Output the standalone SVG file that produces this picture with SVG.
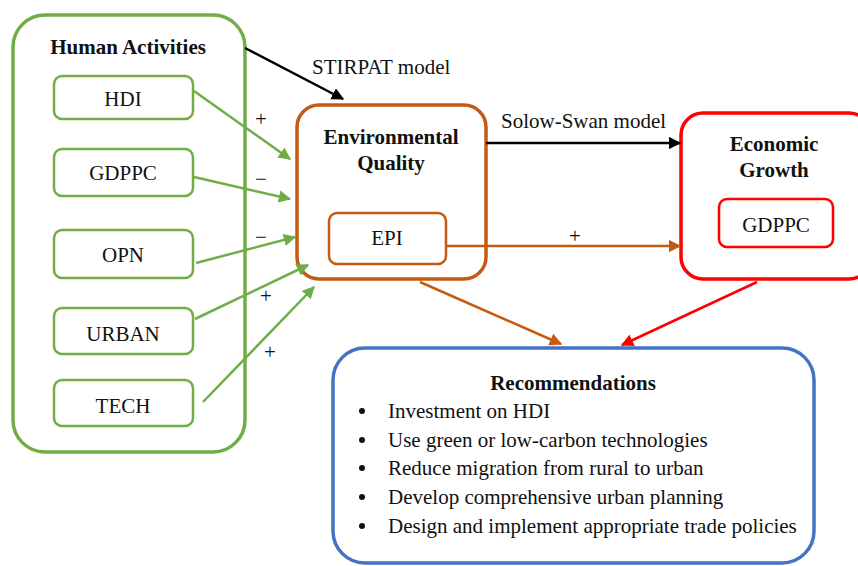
<svg xmlns="http://www.w3.org/2000/svg" width="858" height="566" viewBox="0 0 858 566" font-family="'Liberation Serif', 'Times New Roman', 'DejaVu Serif', serif">
<style>
text{font-family:'Liberation Serif','Times New Roman','DejaVu Serif',serif;font-size:21px;fill:#111;}
.b{font-weight:bold;}
.m{text-anchor:middle;}
.g{fill:#fff;stroke:#70AD47;}
.o{fill:#fff;stroke:#C55A11;}
.r{fill:#fff;stroke:#FF0000;}
.bl{fill:#fff;stroke:#4472C4;}
.cg{stroke:#70AD47;stroke-width:2.5;fill:none;marker-end:url(#ag);}
</style>
<defs>
<marker id="ag" viewBox="0 0 10 10" refX="9" refY="5" markerWidth="5" markerHeight="5" markerUnits="strokeWidth" orient="auto"><path d="M0,0L10,5L0,10z" fill="#70AD47"/></marker>
<marker id="ak" viewBox="0 0 10 10" refX="9" refY="5" markerWidth="5" markerHeight="5" markerUnits="strokeWidth" orient="auto"><path d="M0,0L10,5L0,10z" fill="#000"/></marker>
<marker id="ao" viewBox="0 0 10 10" refX="9" refY="5" markerWidth="5" markerHeight="5" markerUnits="strokeWidth" orient="auto"><path d="M0,0L10,5L0,10z" fill="#C55A11"/></marker>
<marker id="ar" viewBox="0 0 10 10" refX="9" refY="5" markerWidth="5" markerHeight="5" markerUnits="strokeWidth" orient="auto"><path d="M0,0L10,5L0,10z" fill="#FF0000"/></marker>
</defs>
<rect width="858" height="566" fill="#fff"/>

<g id="human-activities">
<rect class="g" x="13" y="15" width="232" height="437" rx="32" stroke-width="3.5"/>
<text class="b m" x="128" y="54">Human Activities</text>
</g>
<g id="hdi"><rect class="g" x="54" y="76" width="139" height="43" rx="8" stroke-width="2.5"/><text class="m" x="123" y="106">HDI</text></g>
<g id="gdppc-h"><rect class="g" x="54" y="149" width="139" height="47" rx="8" stroke-width="2.5"/><text class="m" x="123" y="180">GDPPC</text></g>
<g id="opn"><rect class="g" x="54" y="230" width="139" height="48" rx="8" stroke-width="2.5"/><text class="m" x="123" y="262">OPN</text></g>
<g id="urban"><rect class="g" x="54" y="308" width="139" height="46" rx="8" stroke-width="2.5"/><text class="m" x="123" y="341">URBAN</text></g>
<g id="tech"><rect class="g" x="54" y="380" width="139" height="46" rx="8" stroke-width="2.5"/><text class="m" x="123" y="413">TECH</text></g>

<g id="environmental-quality">
<rect class="o" x="297" y="105" width="189" height="174" rx="22" stroke-width="3.5"/>
<text class="b m" x="391" y="144">Environmental</text>
<text class="b m" x="391" y="170">Quality</text>
</g>
<g id="epi"><rect class="o" x="329" y="213" width="117" height="51" rx="8" stroke-width="2.5"/><text class="m" x="387" y="245">EPI</text></g>

<g id="economic-growth">
<rect class="r" x="681" y="113" width="190" height="166" rx="22" stroke-width="3.5"/>
<text class="b m" x="774" y="151">Economic</text>
<text class="b m" x="774" y="177">Growth</text>
</g>
<g id="gdppc-e"><rect class="r" x="719" y="199" width="114" height="48" rx="8" stroke-width="2.5"/><text class="m" x="776" y="232">GDPPC</text></g>

<g id="recommendations">
<rect class="bl" x="333" y="348" width="481" height="215" rx="32" stroke-width="3.5"/>
<text class="b m" x="573" y="390">Recommendations</text>
<g>
<circle cx="362" cy="411" r="3" fill="#111"/><text x="388" y="418">Investment on HDI</text>
<circle cx="362" cy="440" r="3" fill="#111"/><text x="388" y="447">Use green or low-carbon technologies</text>
<circle cx="362" cy="468" r="3" fill="#111"/><text x="388" y="475">Reduce migration from rural to urban</text>
<circle cx="362" cy="497" r="3" fill="#111"/><text x="388" y="504">Develop comprehensive urban planning</text>
<circle cx="362" cy="526" r="3" fill="#111"/><text x="388" y="533">Design and implement appropriate trade policies</text>
</g>
</g>

<g id="connectors">
<line x1="245" y1="48" x2="343" y2="99" stroke="#000" stroke-width="2.5" marker-end="url(#ak)"/>
<text x="312" y="74">STIRPAT model</text>
<line x1="486" y1="143" x2="680" y2="143" stroke="#000" stroke-width="2.5" marker-end="url(#ak)"/>
<text x="501" y="128">Solow-Swan model</text>
<line x1="446" y1="246" x2="680" y2="246" stroke="#C55A11" stroke-width="2.5" marker-end="url(#ao)"/>
<text class="m" x="575" y="243">+</text>
<line class="cg" x1="194" y1="91" x2="290" y2="159"/>
<line class="cg" x1="194" y1="177" x2="290" y2="199"/>
<line class="cg" x1="196" y1="263" x2="295" y2="237"/>
<line class="cg" x1="195" y1="319" x2="308" y2="265"/>
<line class="cg" x1="203" y1="402" x2="314" y2="287"/>
<text class="m" x="261" y="126">+</text>
<text class="m" x="261" y="186">−</text>
<text class="m" x="261" y="244">−</text>
<text class="m" x="266" y="303">+</text>
<text class="m" x="270" y="359">+</text>
<line x1="420" y1="282" x2="561" y2="344" stroke="#C55A11" stroke-width="2.5" marker-end="url(#ao)"/>
<line x1="757" y1="282" x2="622" y2="345" stroke="#FF0000" stroke-width="2.5" marker-end="url(#ar)"/>
</g>
</svg>
